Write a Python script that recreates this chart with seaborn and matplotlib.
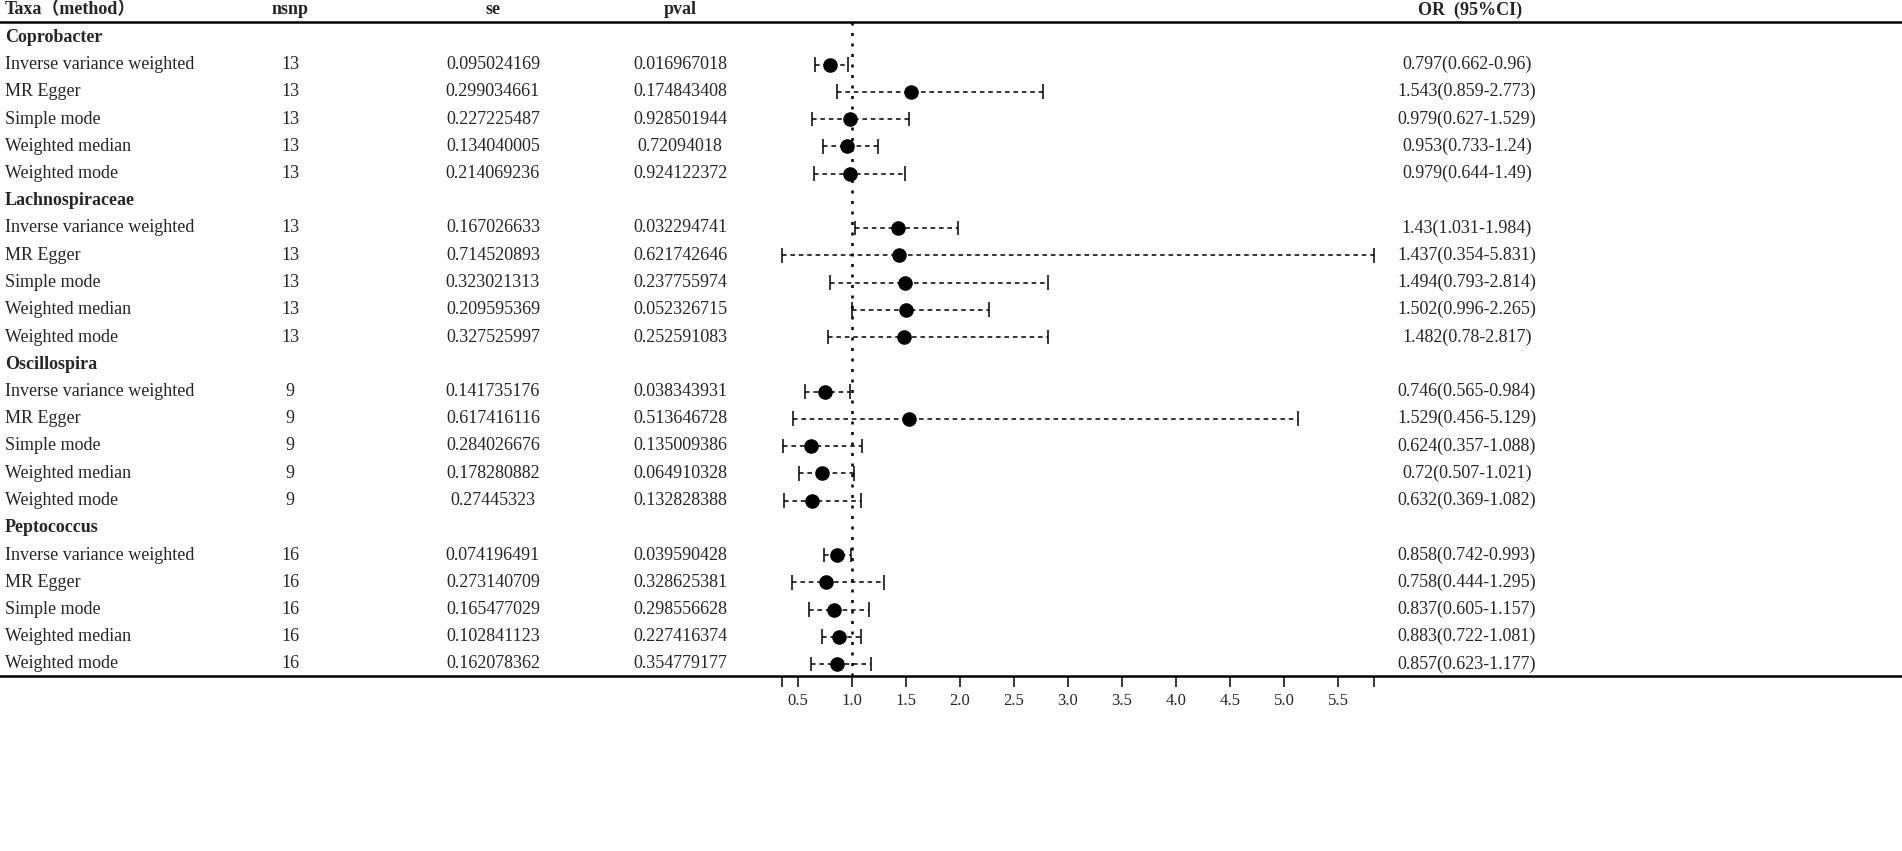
import numpy as np
import pandas as pd
import matplotlib
matplotlib.use("Agg")
import matplotlib.pyplot as plt
import matplotlib.transforms as mtransforms
import seaborn as sns

taxa = ["Coprobacter", "Lachnospiraceae", "Oscillospira", "Peptococcus"]
methods = ["Inverse variance weighted", "MR Egger", "Simple mode",
           "Weighted median", "Weighted mode"]
nsnp = [13, 13, 9, 16]

se = [
    ["0.095024169", "0.299034661", "0.227225487", "0.134040005", "0.214069236"],
    ["0.167026633", "0.714520893", "0.323021313", "0.209595369", "0.327525997"],
    ["0.141735176", "0.617416116", "0.284026676", "0.178280882", "0.27445323"],
    ["0.074196491", "0.273140709", "0.165477029", "0.102841123", "0.162078362"],
]
pval = [
    ["0.016967018", "0.174843408", "0.928501944", "0.72094018", "0.924122372"],
    ["0.032294741", "0.621742646", "0.237755974", "0.052326715", "0.252591083"],
    ["0.038343931", "0.513646728", "0.135009386", "0.064910328", "0.132828388"],
    ["0.039590428", "0.328625381", "0.298556628", "0.227416374", "0.354779177"],
]
odds = [
    [0.797, 1.543, 0.979, 0.953, 0.979],
    [1.43, 1.437, 1.494, 1.502, 1.482],
    [0.746, 1.529, 0.624, 0.72, 0.632],
    [0.858, 0.758, 0.837, 0.883, 0.857],
]
lower = [
    [0.662, 0.859, 0.627, 0.733, 0.644],
    [1.031, 0.354, 0.793, 0.996, 0.78],
    [0.565, 0.456, 0.357, 0.507, 0.369],
    [0.742, 0.444, 0.605, 0.722, 0.623],
]
upper = [
    [0.96, 2.773, 1.529, 1.24, 1.49],
    [1.984, 5.831, 2.814, 2.265, 2.817],
    [0.984, 5.129, 1.088, 1.021, 1.082],
    [0.993, 1.295, 1.157, 1.081, 1.177],
]
ticks = [0.5, 1.0, 1.5, 2.0, 2.5, 3.0, 3.5, 4.0, 4.5, 5.0, 5.5]

# build long table, one row per line of the table (group headers included)
rows = []
y = 1
for i, t in enumerate(taxa):
    rows.append(dict(y=y, label=t, header=True))
    y += 1
    for j, m in enumerate(methods):
        rows.append(dict(y=y, label=m, header=False, nsnp=nsnp[i], se=se[i][j],
                         pval=pval[i][j], OR=odds[i][j], lo=lower[i][j], hi=upper[i][j]))
        y += 1
df = pd.DataFrame(rows)
est = df[~df.header]
nrows = y

sns.set_theme(style="white")
plt.rcParams["font.family"] = ["Liberation Serif", "Noto Sans CJK SC", "DejaVu Serif"]

fig = plt.figure(figsize=(19.02, 8.51), dpi=100)
W, H = 1902, 851
# axes spans the whole width; x scale so that 1.0 sits at px 852, 108 px per unit
ax = fig.add_axes([0, 1 - 676 / H, 1, 676 / H])
px_per = 108.0
ax.set_xlim(1 - 852 / px_per, 1 + (W - 852) / px_per)
# rows: header at y=10 px, last row at 664 px
row_h = (664 - 10) / (nrows - 1)
ax.set_ylim(676 / row_h - 10 / row_h, -10 / row_h)

# CI lines (dashed) with caps
ax.hlines(est.y, est.lo, est.hi, colors="black", linewidth=1.1,
          linestyles=(0, (3, 2.5)), zorder=2)
ax.vlines(np.r_[est.lo, est.hi], np.r_[est.y, est.y] - 0.27, np.r_[est.y, est.y] + 0.27,
          colors="black", linewidth=1.1, zorder=2)
sns.scatterplot(data=est, x="OR", y="y", ax=ax, color="black", s=110,
                edgecolor="black", linewidth=0, zorder=3, legend=False)

# reference line at OR = 1
ax.axvline(1.0, ymin=0, ymax=1 - 22 / 676, color="black", linewidth=1.8,
           linestyle=(0, (1.2, 3)), zorder=1)

# header rule
ax.axhline(22 / row_h - 10 / row_h, color="black", linewidth=1.8)

tr = mtransforms.blended_transform_factory(fig.transFigure, ax.transData)
fs = 13
hdr = dict(fontsize=fs, fontweight="bold", va="center", transform=tr)
ax.text(5 / W, 0, "Taxa\uff08method\uff09", ha="left", **hdr)
ax.text(290 / W, 0, "nsnp", ha="center", **hdr)
ax.text(493 / W, 0, "se", ha="center", **hdr)
ax.text(680 / W, 0, "pval", ha="center", **hdr)
ax.text(1470 / W, 0, "OR\u00a0 (95%CI)", ha="center", **hdr)

for _, r in df.iterrows():
    if r.header:
        ax.text(5 / W, r.y, r.label, ha="left", va="center", fontsize=fs,
                fontweight="bold", transform=tr)
        continue
    ax.text(5 / W, r.y, r.label, ha="left", va="center", fontsize=fs, transform=tr)
    ax.text(290 / W, r.y, str(int(r.nsnp)), ha="center", va="center", fontsize=fs, transform=tr)
    ax.text(493 / W, r.y, r.se, ha="center", va="center", fontsize=fs, transform=tr)
    ax.text(680 / W, r.y, r.pval, ha="center", va="center", fontsize=fs, transform=tr)
    ax.text(1467 / W, r.y, f"{r.OR:g}({r.lo:g}-{r.hi:g})", ha="center", va="center",
            fontsize=fs, transform=tr)

# x axis: ticks at round values plus the ends of the CI range
xmin, xmax = est.lo.min(), est.hi.max()
ax.set_xticks([xmin] + ticks + [xmax])
ax.set_xticklabels([""] + [f"{v:.1f}" for v in ticks] + [""], fontsize=12)
ax.tick_params(axis="x", direction="out", length=8, width=1.3, bottom=True, pad=4)
ax.set_yticks([])
ax.set_xlabel("")
ax.set_ylabel("")
for s in ["top", "left", "right"]:
    ax.spines[s].set_visible(False)
ax.spines["bottom"].set_linewidth(1.8)
ax.spines["bottom"].set_color("black")
ax.patch.set_alpha(0)

fig.savefig("out.png", dpi=100)
